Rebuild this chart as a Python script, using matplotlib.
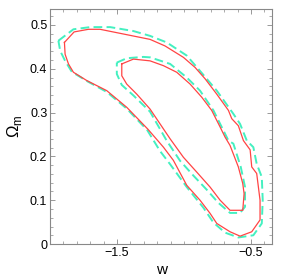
import numpy as np
import matplotlib
matplotlib.use('Agg')
import matplotlib.pyplot as plt
from matplotlib.ticker import MultipleLocator, FixedLocator

plt.rcParams['font.family'] = ['Liberation Sans', 'DejaVu Sans']
plt.rcParams['mathtext.fontset'] = 'custom'
plt.rcParams['mathtext.rm'] = 'Liberation Sans'

# outer contour, solid red
outer_red_w = [-1.893, -1.821, -1.714, -1.627, -1.254, -1.142, -1.005, -0.918, -0.843, -0.756,
               -0.669, -0.644, -0.595, -0.557, -0.507, -0.495, -0.458, -0.433, -0.433, -0.495,
               -0.582, -0.657, -0.756, -0.806, -0.881, -0.980, -1.080, -1.154, -1.270, -1.428,
               -1.577, -1.726, -1.826, -1.863, -1.888]
outer_red_om = [0.460, 0.484, 0.490, 0.490, 0.467, 0.452, 0.426, 0.403, 0.377, 0.342,
                0.305, 0.286, 0.270, 0.236, 0.215, 0.176, 0.161, 0.100, 0.055, 0.028,
                0.018, 0.028, 0.047, 0.070, 0.100, 0.134, 0.191, 0.221, 0.262, 0.312,
                0.350, 0.373, 0.392, 0.411, 0.433]

# inner contour, solid red
inner_red_w = [-1.465, -1.378, -1.254, -1.154, -1.055, -0.955, -0.868, -0.794, -0.731, -0.694,
               -0.657, -0.595, -0.562, -0.552, -0.562, -0.657, -0.731, -0.806, -0.905, -1.005,
               -1.104, -1.254, -1.353, -1.428, -1.465]
inner_red_om = [0.411, 0.422, 0.418, 0.407, 0.392, 0.365, 0.335, 0.305, 0.267, 0.244,
                0.225, 0.176, 0.138, 0.115, 0.077, 0.077, 0.100, 0.130, 0.164, 0.198,
                0.240, 0.308, 0.342, 0.365, 0.384]

# outer contour, dashed
outer_dash_w = [-1.938, -1.826, -1.701, -1.552, -1.378, -1.254, -1.129, -0.980, -0.881, -0.756,
                -0.632, -0.582, -0.532, -0.483, -0.458, -0.420, -0.413, -0.420, -0.483, -0.595,
                -0.694, -0.781, -0.856, -0.980, -1.104, -1.179, -1.275, -1.428, -1.577, -1.726,
                -1.838, -1.888, -1.925]
outer_dash_om = [0.464, 0.490, 0.495, 0.495, 0.486, 0.475, 0.460, 0.430, 0.395, 0.350,
                 0.297, 0.274, 0.236, 0.221, 0.183, 0.153, 0.100, 0.047, 0.020, 0.015,
                 0.026, 0.049, 0.083, 0.130, 0.182, 0.212, 0.260, 0.309, 0.347, 0.372,
                 0.393, 0.418, 0.441]

# inner contour, dashed
inner_dash_w = [-1.502, -1.428, -1.304, -1.254, -1.104, -0.980, -0.881, -0.781, -0.706, -0.669,
                -0.632, -0.577, -0.545, -0.545, -0.582, -0.657, -0.744, -0.831, -0.930, -1.030,
                -1.130, -1.254, -1.378, -1.465, -1.502]
inner_dash_om = [0.414, 0.424, 0.427, 0.426, 0.411, 0.380, 0.350, 0.305, 0.259, 0.236,
                 0.229, 0.176, 0.130, 0.085, 0.071, 0.071, 0.094, 0.124, 0.156, 0.190,
                 0.236, 0.302, 0.339, 0.363, 0.388]

x_major = [-1.5, -0.5]
x_labels = ['\u22121.5', '\u22120.5']
y_major = [0, 0.1, 0.2, 0.3, 0.4, 0.5]
y_labels = ['0', '0.1', '0.2', '0.3', '0.4', '0.5']

red = '#ff4444'
cyan = '#44f0c0'

fig = plt.figure(figsize=(3.0, 2.77), dpi=100)
ax = fig.add_axes([0.167, 0.119, 0.740, 0.848])

def closed(a):
    return list(a) + [a[0]]

ax.plot(closed(outer_dash_w), closed(outer_dash_om), color=cyan, lw=1.4, ls=(0, (4.5, 2.2)))
ax.plot(closed(inner_dash_w), closed(inner_dash_om), color=cyan, lw=1.4, ls=(0, (4.5, 2.2)))
ax.plot(closed(outer_red_w), closed(outer_red_om), color=red, lw=0.9)
ax.plot(closed(inner_red_w), closed(inner_red_om), color=red, lw=0.9)

ax.set_xlim(-2.0, -0.343)
ax.set_ylim(0, 0.536)

ax.xaxis.set_major_locator(FixedLocator(x_major))
ax.set_xticklabels(x_labels)
ax.xaxis.set_minor_locator(MultipleLocator(0.1))
ax.yaxis.set_major_locator(FixedLocator(y_major))
ax.set_yticklabels(y_labels)
ax.yaxis.set_minor_locator(MultipleLocator(0.02))

ax.tick_params(which='both', direction='in', top=True, right=True, colors='#888888',
               labelcolor='black', labelsize=9, pad=2)
ax.tick_params(which='major', length=3.5, width=0.6)
ax.tick_params(which='minor', length=2, width=0.5)
for s in ax.spines.values():
    s.set_color('#888888')
    s.set_linewidth(0.8)

ax.set_xlabel('w', fontsize=11, labelpad=3)
ax.set_ylabel(r'$\Omega_{\rm m}$', fontsize=12, labelpad=4)

fig.savefig('out.png', dpi=100)
